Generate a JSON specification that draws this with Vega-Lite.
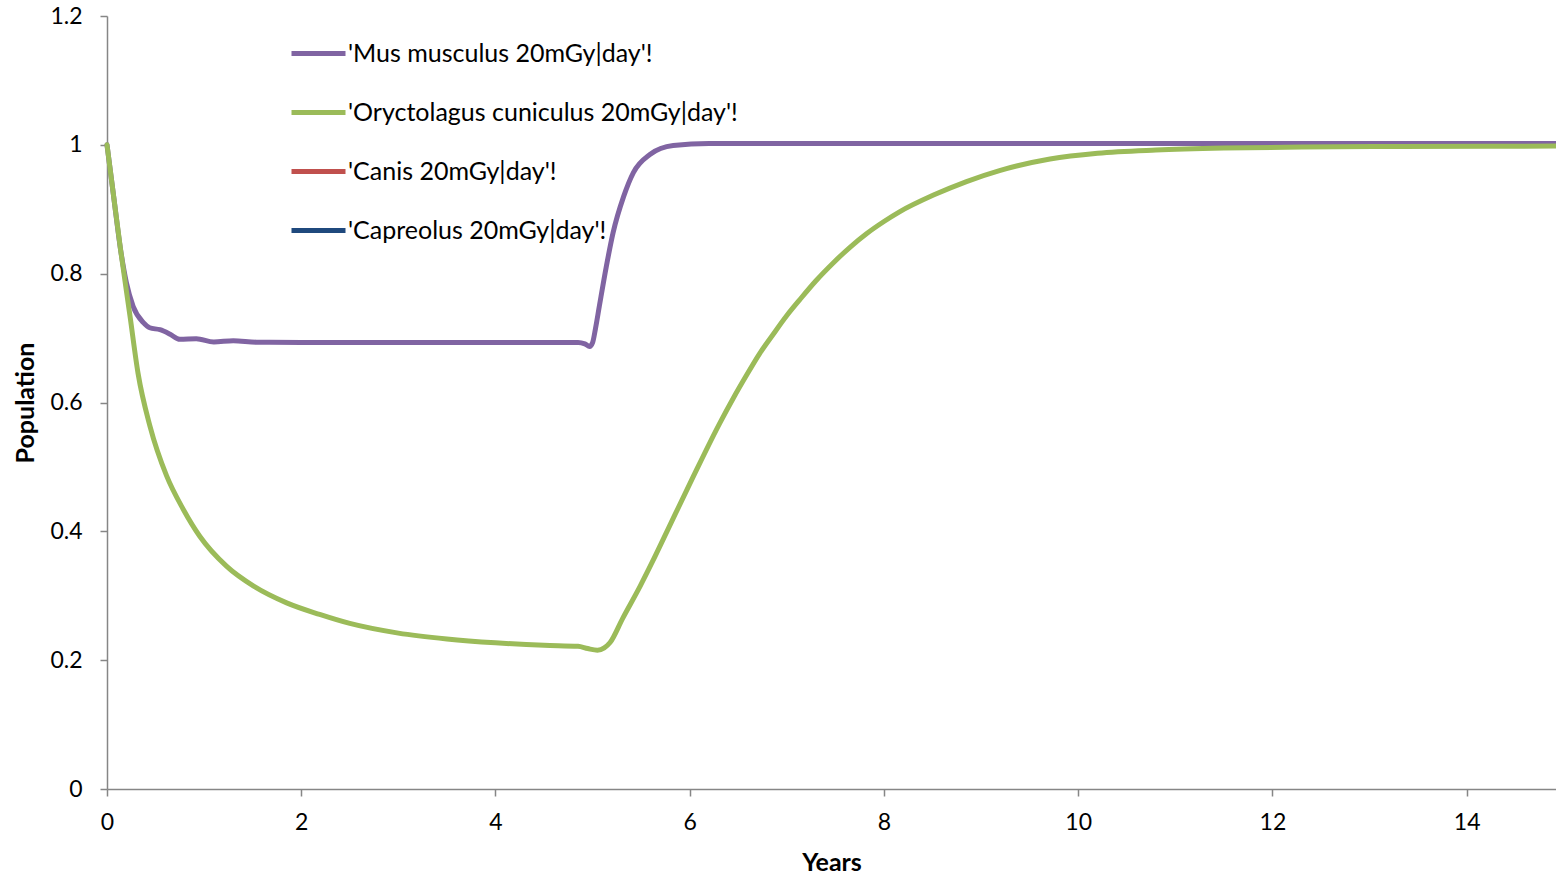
{
  "$schema": "https://vega.github.io/schema/vega-lite/v6.json",
  "width": 1449,
  "height": 773,
  "autosize": {"type": "none"},
  "padding": {"left": 107, "top": 16, "right": 0, "bottom": 89},
  "background": "white",
  "config": {
    "view": {"stroke": null},
    "font": "Lato",
    "axis": {
      "domainColor": "#868686",
      "domainWidth": 1.5,
      "tickColor": "#868686",
      "tickWidth": 1.5,
      "tickSize": 7,
      "grid": false,
      "labelFont": "Lato",
      "labelFontSize": 23,
      "labelColor": "#000000",
      "titleFont": "Lato",
      "titleFontSize": 25,
      "titleFontWeight": "bold",
      "titleColor": "#000000"
    },
    "legend": {
      "labelFont": "Lato",
      "labelFontSize": 25,
      "labelColor": "#000000"
    }
  },
  "data": {
    "values": [
      {"t": 0, "v": 1.0, "s": "'Mus musculus 20mGy|day'!"},
      {"t": 0.07, "v": 0.918, "s": "'Mus musculus 20mGy|day'!"},
      {"t": 0.14, "v": 0.837, "s": "'Mus musculus 20mGy|day'!"},
      {"t": 0.2, "v": 0.786, "s": "'Mus musculus 20mGy|day'!"},
      {"t": 0.27, "v": 0.749, "s": "'Mus musculus 20mGy|day'!"},
      {"t": 0.375, "v": 0.724, "s": "'Mus musculus 20mGy|day'!"},
      {"t": 0.44, "v": 0.716, "s": "'Mus musculus 20mGy|day'!"},
      {"t": 0.545, "v": 0.713, "s": "'Mus musculus 20mGy|day'!"},
      {"t": 0.65, "v": 0.706, "s": "'Mus musculus 20mGy|day'!"},
      {"t": 0.75, "v": 0.698, "s": "'Mus musculus 20mGy|day'!"},
      {"t": 0.92, "v": 0.699, "s": "'Mus musculus 20mGy|day'!"},
      {"t": 1.1, "v": 0.694, "s": "'Mus musculus 20mGy|day'!"},
      {"t": 1.3, "v": 0.696, "s": "'Mus musculus 20mGy|day'!"},
      {"t": 1.54, "v": 0.6936, "s": "'Mus musculus 20mGy|day'!"},
      {"t": 2, "v": 0.6933, "s": "'Mus musculus 20mGy|day'!"},
      {"t": 3, "v": 0.6933, "s": "'Mus musculus 20mGy|day'!"},
      {"t": 4, "v": 0.6933, "s": "'Mus musculus 20mGy|day'!"},
      {"t": 4.85, "v": 0.6933, "s": "'Mus musculus 20mGy|day'!"},
      {"t": 4.92, "v": 0.691, "s": "'Mus musculus 20mGy|day'!"},
      {"t": 4.97, "v": 0.687, "s": "'Mus musculus 20mGy|day'!"},
      {"t": 5.0, "v": 0.693, "s": "'Mus musculus 20mGy|day'!"},
      {"t": 5.03, "v": 0.715, "s": "'Mus musculus 20mGy|day'!"},
      {"t": 5.07, "v": 0.75, "s": "'Mus musculus 20mGy|day'!"},
      {"t": 5.14, "v": 0.81, "s": "'Mus musculus 20mGy|day'!"},
      {"t": 5.21, "v": 0.863, "s": "'Mus musculus 20mGy|day'!"},
      {"t": 5.32, "v": 0.92, "s": "'Mus musculus 20mGy|day'!"},
      {"t": 5.42, "v": 0.957, "s": "'Mus musculus 20mGy|day'!"},
      {"t": 5.59, "v": 0.985, "s": "'Mus musculus 20mGy|day'!"},
      {"t": 5.83, "v": 0.999, "s": "'Mus musculus 20mGy|day'!"},
      {"t": 6.2, "v": 1.002, "s": "'Mus musculus 20mGy|day'!"},
      {"t": 8, "v": 1.002, "s": "'Mus musculus 20mGy|day'!"},
      {"t": 10, "v": 1.002, "s": "'Mus musculus 20mGy|day'!"},
      {"t": 12, "v": 1.002, "s": "'Mus musculus 20mGy|day'!"},
      {"t": 14.92, "v": 1.002, "s": "'Mus musculus 20mGy|day'!"},
      {"t": 0, "v": 1.0, "s": "'Oryctolagus cuniculus 20mGy|day'!"},
      {"t": 0.07, "v": 0.918, "s": "'Oryctolagus cuniculus 20mGy|day'!"},
      {"t": 0.14, "v": 0.837, "s": "'Oryctolagus cuniculus 20mGy|day'!"},
      {"t": 0.237, "v": 0.734, "s": "'Oryctolagus cuniculus 20mGy|day'!"},
      {"t": 0.32, "v": 0.645, "s": "'Oryctolagus cuniculus 20mGy|day'!"},
      {"t": 0.443, "v": 0.563, "s": "'Oryctolagus cuniculus 20mGy|day'!"},
      {"t": 0.614, "v": 0.486, "s": "'Oryctolagus cuniculus 20mGy|day'!"},
      {"t": 0.786, "v": 0.434, "s": "'Oryctolagus cuniculus 20mGy|day'!"},
      {"t": 0.957, "v": 0.392, "s": "'Oryctolagus cuniculus 20mGy|day'!"},
      {"t": 1.23, "v": 0.346, "s": "'Oryctolagus cuniculus 20mGy|day'!"},
      {"t": 1.51, "v": 0.315, "s": "'Oryctolagus cuniculus 20mGy|day'!"},
      {"t": 1.85, "v": 0.289, "s": "'Oryctolagus cuniculus 20mGy|day'!"},
      {"t": 2.19, "v": 0.271, "s": "'Oryctolagus cuniculus 20mGy|day'!"},
      {"t": 2.5, "v": 0.257, "s": "'Oryctolagus cuniculus 20mGy|day'!"},
      {"t": 3, "v": 0.242, "s": "'Oryctolagus cuniculus 20mGy|day'!"},
      {"t": 3.5, "v": 0.233, "s": "'Oryctolagus cuniculus 20mGy|day'!"},
      {"t": 4, "v": 0.227, "s": "'Oryctolagus cuniculus 20mGy|day'!"},
      {"t": 4.5, "v": 0.223, "s": "'Oryctolagus cuniculus 20mGy|day'!"},
      {"t": 4.85, "v": 0.2215, "s": "'Oryctolagus cuniculus 20mGy|day'!"},
      {"t": 4.95, "v": 0.218, "s": "'Oryctolagus cuniculus 20mGy|day'!"},
      {"t": 5.05, "v": 0.2155, "s": "'Oryctolagus cuniculus 20mGy|day'!"},
      {"t": 5.12, "v": 0.219, "s": "'Oryctolagus cuniculus 20mGy|day'!"},
      {"t": 5.18, "v": 0.2274, "s": "'Oryctolagus cuniculus 20mGy|day'!"},
      {"t": 5.31, "v": 0.265, "s": "'Oryctolagus cuniculus 20mGy|day'!"},
      {"t": 5.49, "v": 0.315, "s": "'Oryctolagus cuniculus 20mGy|day'!"},
      {"t": 5.62, "v": 0.354, "s": "'Oryctolagus cuniculus 20mGy|day'!"},
      {"t": 5.76, "v": 0.398, "s": "'Oryctolagus cuniculus 20mGy|day'!"},
      {"t": 6.04, "v": 0.486, "s": "'Oryctolagus cuniculus 20mGy|day'!"},
      {"t": 6.31, "v": 0.568, "s": "'Oryctolagus cuniculus 20mGy|day'!"},
      {"t": 6.45, "v": 0.607, "s": "'Oryctolagus cuniculus 20mGy|day'!"},
      {"t": 6.58, "v": 0.641, "s": "'Oryctolagus cuniculus 20mGy|day'!"},
      {"t": 6.72, "v": 0.676, "s": "'Oryctolagus cuniculus 20mGy|day'!"},
      {"t": 6.86, "v": 0.706, "s": "'Oryctolagus cuniculus 20mGy|day'!"},
      {"t": 7.0, "v": 0.735, "s": "'Oryctolagus cuniculus 20mGy|day'!"},
      {"t": 7.13, "v": 0.759, "s": "'Oryctolagus cuniculus 20mGy|day'!"},
      {"t": 7.3, "v": 0.789, "s": "'Oryctolagus cuniculus 20mGy|day'!"},
      {"t": 7.48, "v": 0.817, "s": "'Oryctolagus cuniculus 20mGy|day'!"},
      {"t": 7.65, "v": 0.841, "s": "'Oryctolagus cuniculus 20mGy|day'!"},
      {"t": 7.82, "v": 0.862, "s": "'Oryctolagus cuniculus 20mGy|day'!"},
      {"t": 8.0, "v": 0.881, "s": "'Oryctolagus cuniculus 20mGy|day'!"},
      {"t": 8.16, "v": 0.896, "s": "'Oryctolagus cuniculus 20mGy|day'!"},
      {"t": 8.51, "v": 0.922, "s": "'Oryctolagus cuniculus 20mGy|day'!"},
      {"t": 8.85, "v": 0.943, "s": "'Oryctolagus cuniculus 20mGy|day'!"},
      {"t": 9.19, "v": 0.96, "s": "'Oryctolagus cuniculus 20mGy|day'!"},
      {"t": 9.71, "v": 0.978, "s": "'Oryctolagus cuniculus 20mGy|day'!"},
      {"t": 10.2, "v": 0.987, "s": "'Oryctolagus cuniculus 20mGy|day'!"},
      {"t": 10.8, "v": 0.992, "s": "'Oryctolagus cuniculus 20mGy|day'!"},
      {"t": 11.5, "v": 0.995, "s": "'Oryctolagus cuniculus 20mGy|day'!"},
      {"t": 12.3, "v": 0.9965, "s": "'Oryctolagus cuniculus 20mGy|day'!"},
      {"t": 13.3, "v": 0.9975, "s": "'Oryctolagus cuniculus 20mGy|day'!"},
      {"t": 14.92, "v": 0.998, "s": "'Oryctolagus cuniculus 20mGy|day'!"}
    ]
  },
  "mark": {"type": "line", "strokeWidth": 5, "interpolate": "monotone", "strokeCap": "round", "strokeJoin": "round"},
  "encoding": {
    "x": {
      "field": "t",
      "type": "quantitative",
      "title": "Years",
      "scale": {"domain": [0, 14.92], "nice": false, "zero": false},
      "axis": {"values": [0, 2, 4, 6, 8, 10, 12, 14], "format": "d", "labelPadding": 15, "titlePadding": 16, "labelFlush": false}
    },
    "y": {
      "field": "v",
      "type": "quantitative",
      "title": "Population",
      "scale": {"domain": [0, 1.2], "nice": false},
      "axis": {"values": [0, 0.2, 0.4, 0.6, 0.8, 1, 1.2], "format": "~g", "labelPadding": 18, "titlePadding": 11}
    },
    "color": {
      "field": "s",
      "type": "nominal",
      "title": null,
      "scale": {
        "domain": ["'Mus musculus 20mGy|day'!", "'Oryctolagus cuniculus 20mGy|day'!", "'Canis 20mGy|day'!", "'Capreolus 20mGy|day'!"],
        "range": ["#8064A2", "#9BBB59", "#C0504D", "#1F497D"]
      },
      "legend": {
        "orient": "none",
        "legendX": 182,
        "legendY": 8,
        "symbolType": "stroke",
        "symbolSize": 2916,
        "symbolStrokeWidth": 5,
        "rowPadding": 16,
        "padding": 0,
        "labelOffset": 0,
        "labelLimit": 700
      }
    }
  }
}
